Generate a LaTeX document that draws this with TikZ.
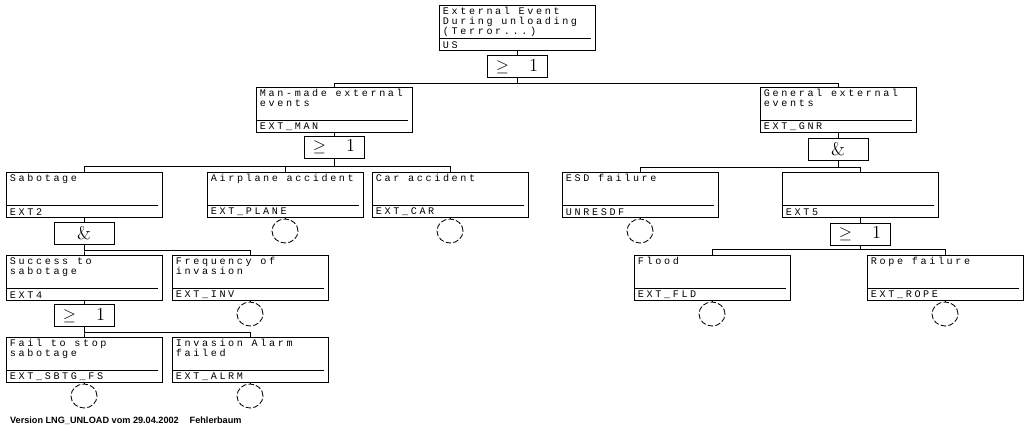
\documentclass[tikz,border=0pt]{standalone}
\usepackage{fontspec}
\usetikzlibrary{shapes.geometric}
\newfontfamily\evfont[LetterSpace=26]{Liberation Mono}
\newfontfamily\footfont{Liberation Sans}
\newcommand{\evtext}[2]{\parbox[t][1.02cm][t]{3.7cm}{#1\par\vfill #2}}

\begin{document}
\begin{tikzpicture}[x=0.025cm, y=-0.025cm, line width=0.6pt,
  evt/.style={draw, rectangle, anchor=north, inner xsep=2pt, inner ysep=1.5pt,
    minimum width=3.9cm, minimum height=1.125cm,
    font=\evfont\fontsize{7.2}{6.9}\selectfont,
    path picture={\draw[line width=0.5pt]
      ([yshift=8.5pt]path picture bounding box.south west) --
      ([xshift=-3pt,yshift=8.5pt]path picture bounding box.south east);}},
  gate/.style={draw, rectangle, minimum width=1.5cm, minimum height=0.55cm,
    inner sep=0pt, font=\fontsize{13}{13}\selectfont},
  basic/.style={draw, ellipse, dash pattern=on 4pt off 1.5pt,
    minimum width=0.65cm, minimum height=0.6cm, inner sep=0pt}]
  \fill[white] (0,0) rectangle (1030,432);
  \useasboundingbox (0,0) rectangle (1030,432);

  % top event
  \node[evt] (top) at (517,5) {\evtext{External Event\\During unloading\\(Terror...)}{US}};
  \node[gate] (g0) at (517,66.5) {$\geq$\hspace{0.5cm}1};

  % second level
  \node[evt] (man) at (334,87) {\evtext{Man-made external\\events}{EXT\_MAN}};
  \node[evt] (gen) at (838,87) {\evtext{General external\\events}{EXT\_GNR}};
  \node[gate] (gman) at (334,147) {$\geq$\hspace{0.5cm}1};
  \node[gate] (ggen) at (838,149) {\&};

  % third level
  \node[evt] (sab) at (84,172) {\evtext{Sabotage}{EXT2}};
  \node[evt] (air) at (285,172) {\evtext{Airplane accident}{EXT\_PLANE}};
  \node[evt] (car) at (450,172) {\evtext{Car accident}{EXT\_CAR}};
  \node[evt] (esd) at (640,172) {\evtext{ESD failure}{UNRESDF}};
  \node[evt] (ext5) at (860,172) {\evtext{}{EXT5}};
  \node[gate] (gsab) at (84,233.5) {\&};
  \node[gate] (gext5) at (860,234) {$\geq$\hspace{0.5cm}1};
  \node[basic] (bair) at (285,231) {};
  \node[basic] (bcar) at (450,231) {};
  \node[basic] (besd) at (640,231) {};

  % fourth level
  \node[evt] (succ) at (84,255) {\evtext{Success to\\sabotage}{EXT4}};
  \node[evt] (freq) at (250,255) {\evtext{Frequency of\\invasion}{EXT\_INV}};
  \node[evt] (flood) at (712,255) {\evtext{Flood}{EXT\_FLD}};
  \node[evt] (rope) at (945,255) {\evtext{Rope failure}{EXT\_ROPE}};
  \node[gate] (gsucc) at (84,315.5) {$\geq$\hspace{0.5cm}1};
  \node[basic] (bfreq) at (250,314) {};
  \node[basic] (bflood) at (712,314) {};
  \node[basic] (brope) at (945,314) {};

  % fifth level
  \node[evt] (fail) at (84,337) {\evtext{Fail to stop\\sabotage}{EXT\_SBTG\_FS}};
  \node[evt] (inv) at (250,337) {\evtext{Invasion Alarm\\failed}{EXT\_ALRM}};
  \node[basic] (bfail) at (84,396) {};
  \node[basic] (binv) at (250,396) {};

  % connections
  \draw (top.south) -- (g0.north);
  \foreach \n in {man,gen} \draw (g0.south) -- ++(0,5) -| (\n.north);
  \draw (man.south) -- (gman.north);
  \draw (gen.south) -- (ggen.north);
  \foreach \n in {sab,air,car} \draw (gman.south) -- ++(0,8) -| (\n.north);
  \foreach \n in {esd,ext5} \draw (ggen.south) -- ++(0,7) -| (\n.north);
  \draw (sab.south) -- (gsab.north);
  \draw (ext5.south) -- (gext5.north);
  \foreach \n in {succ,freq} \draw (gsab.south) -- ++(0,5) -| (\n.north);
  \foreach \n in {flood,rope} \draw (gext5.south) -- ++(0,4) -| (\n.north);
  \draw (succ.south) -- (gsucc.north);
  \foreach \n in {fail,inv} \draw (gsucc.south) -- ++(0,5) -| (\n.north);
  \foreach \n in {air,car,esd,freq,flood,rope,fail,inv} \draw (\n.south) -- (b\n.north);

  \node[anchor=west, font=\footfont\bfseries\fontsize{6.5}{7}\selectfont] (foot) at (5,421)
    {Version LNG\_UNLOAD vom 29.04.2002\hspace{1.2em}Fehlerbaum};
\end{tikzpicture}
\end{document}
